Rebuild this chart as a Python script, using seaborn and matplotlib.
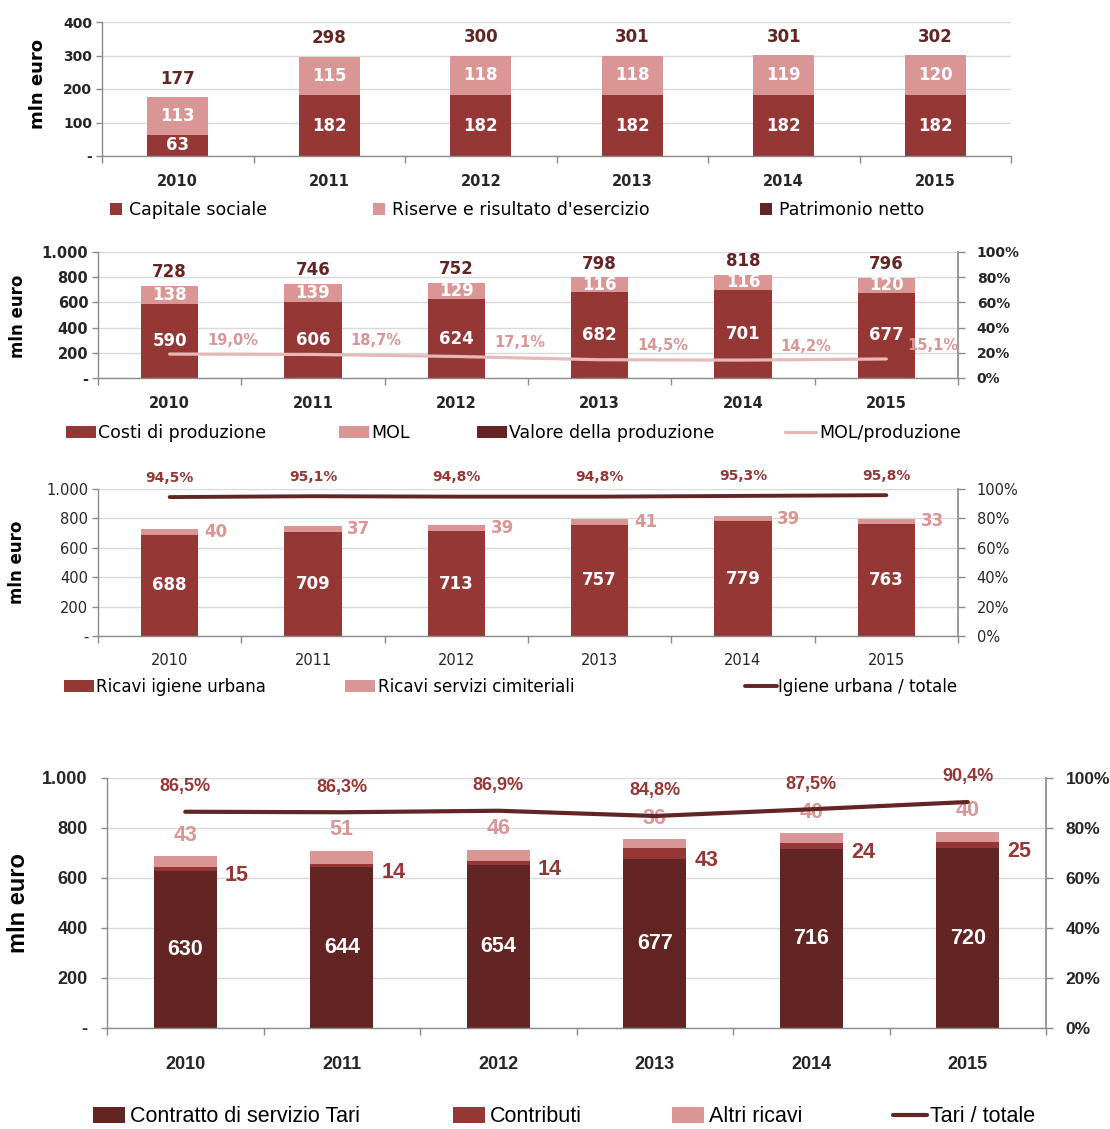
import numpy as np
import matplotlib
matplotlib.use('Agg')
import matplotlib.pyplot as plt
import matplotlib.ticker as mticker
from matplotlib.patches import Patch
from matplotlib.lines import Line2D
import seaborn as sns

years = ['2010', '2011', '2012', '2013', '2014', '2015']

# patrimonio netto
capitale_sociale = [63, 182, 182, 182, 182, 182]
riserve = [113, 115, 118, 118, 119, 120]
patrimonio_netto = [177, 298, 300, 301, 301, 302]

# valore della produzione
costi_produzione = [590, 606, 624, 682, 701, 677]
mol = [138, 139, 129, 116, 116, 120]
valore_produzione = [728, 746, 752, 798, 818, 796]
mol_su_produzione = [19.0, 18.7, 17.1, 14.5, 14.2, 15.1]

# ricavi igiene urbana / cimiteriali
ricavi_igiene = [688, 709, 713, 757, 779, 763]
ricavi_cimiteriali = [40, 37, 39, 41, 39, 33]
igiene_su_totale = [94.5, 95.1, 94.8, 94.8, 95.3, 95.8]

# ricavi tari
contratto_tari = [630, 644, 654, 677, 716, 720]
contributi = [15, 14, 14, 43, 24, 25]
altri_ricavi = [43, 51, 46, 36, 40, 40]
tari_su_totale = [86.5, 86.3, 86.9, 84.8, 87.5, 90.4]

DARK = '#632523'
RED = '#953735'
PINK = '#d99694'
LINEPINK = '#e6b9b8'
GRID = '#d9d9d9'
AXIS = '#8c8c8c'
F1 = 'DejaVu Sans'
F4 = 'Liberation Sans'

sns.set_theme(style='white')
plt.rcParams['font.family'] = ['DejaVu Sans']
plt.rcParams['text.color'] = '#000000'

W, H = 1110, 1129
fig = plt.figure(figsize=(W / 100, H / 100), dpi=100)


def rect(l, t, r, b):
    return [l / W, 1 - b / H, (r - l) / W, (b - t) / H]


def eur(v, _):
    if v == 0:
        return '-'
    return f'{v:,.0f}'.replace(',', '.')


def pct_txt(v):
    return f'{v:.1f}%'.replace('.', ',')


def stacked(ax, layers):
    # layers from the top of the stack down: each drawn over the previous one
    for heights, color in layers:
        sns.barplot(x=years, y=heights, color=color, width=0.4, saturation=1,
                    linewidth=0, errorbar=None, ax=ax)


def style_left(ax, ymax, step, family, weight, ysize, xsize, ypad, xpad):
    ax.set_xlim(-0.5, len(years) - 0.5)
    ax.set_ylim(0, ymax)
    ax.yaxis.set_major_locator(mticker.MultipleLocator(step))
    ax.yaxis.set_major_formatter(mticker.FuncFormatter(eur))
    ax.grid(axis='y', color=GRID, lw=1)
    ax.grid(axis='x', visible=False)
    ax.set_axisbelow(True)
    for s in ['top', 'right']:
        ax.spines[s].set_visible(False)
    for s in ['left', 'bottom']:
        ax.spines[s].set_color(AXIS)
        ax.spines[s].set_linewidth(1)
    ax.set_xticks(range(len(years)))
    ax.set_xticklabels(years, family=family, fontweight=weight, fontsize=xsize)
    ax.set_xticks(np.arange(len(years) + 1) - 0.5, minor=True)
    ax.tick_params(axis='x', which='major', length=0, pad=xpad, bottom=True)
    ax.tick_params(axis='x', which='minor', length=5, width=1, color=AXIS, bottom=True)
    ax.tick_params(axis='y', length=4, width=1, color=AXIS, pad=ypad, left=True,
                   labelsize=ysize)
    for lab in ax.get_yticklabels():
        lab.set_family(family)
        lab.set_fontweight(weight)
    ax.set_xlabel('')
    ax.set_ylabel('')


def style_right(ax2, family, weight, size, pad):
    ax2.set_ylim(0, 1)
    ax2.yaxis.set_major_locator(mticker.MultipleLocator(0.2))
    ax2.yaxis.set_major_formatter(mticker.PercentFormatter(1.0, decimals=0))
    ax2.grid(False)
    for s in ['top', 'left', 'bottom']:
        ax2.spines[s].set_visible(False)
    ax2.spines['right'].set_color(AXIS)
    ax2.tick_params(axis='y', right=True, length=5, width=1, color=AXIS, pad=pad,
                    labelsize=size)
    for lab in ax2.get_yticklabels():
        lab.set_family(family)
        lab.set_fontweight(weight)
    ax2.set_ylabel('')


def legend_item(handle, label, x, y, fs, family, hl, hh, pad):
    fig.legend(handles=[handle], labels=[label], loc='center left',
               bbox_to_anchor=(x / W, 1 - y / H), frameon=False,
               prop={'family': family, 'size': fs}, handlelength=hl,
               handleheight=hh, handletextpad=pad, borderpad=0, borderaxespad=0)


def ylabel(text, x, y, fs, family):
    fig.text(x / W, 1 - y / H, text, rotation=90, ha='center', va='center',
             fontsize=fs, fontweight='bold', family=family)


idx = np.arange(len(years))

# ---------------- panel 1: patrimonio netto
ax1 = fig.add_axes(rect(102, 22, 1011, 156))
stacked(ax1, [(np.add(capitale_sociale, riserve), PINK), (capitale_sociale, RED)])
style_left(ax1, 400, 100, F1, 'bold', 10, 10.5, 3, 13)
for i in idx:
    ax1.text(i, capitale_sociale[i] / 2, str(capitale_sociale[i]), ha='center',
             va='center', color='white', fontsize=12, fontweight='bold')
    ax1.text(i, capitale_sociale[i] + riserve[i] / 2, str(riserve[i]), ha='center',
             va='center', color='white', fontsize=12, fontweight='bold')
    ax1.annotate(str(patrimonio_netto[i]), (i, patrimonio_netto[i]), xytext=(0, 13),
                 textcoords='offset points', ha='center', va='center', color=DARK,
                 fontsize=12, fontweight='bold')
ylabel('mln euro', 38, 84, 13, F1)
legend_item(Patch(facecolor=RED, edgecolor='none'), 'Capitale sociale', 110, 210, 12.5, F1, 0.7, 0.7, 0.4)
legend_item(Patch(facecolor=PINK, edgecolor='none'), "Riserve e risultato d'esercizio", 373, 210, 12.5, F1, 0.7, 0.7, 0.4)
legend_item(Patch(facecolor=DARK, edgecolor='none'), 'Patrimonio netto', 760, 210, 12.5, F1, 0.7, 0.7, 0.4)

# ---------------- panel 2: valore della produzione
ax2 = fig.add_axes(rect(98, 252, 958, 378))
stacked(ax2, [(np.add(costi_produzione, mol), PINK), (costi_produzione, RED)])
style_left(ax2, 1000, 200, F1, 'bold', 10.5, 10.5, 3, 13)
ax2r = ax2.twinx()
sns.lineplot(x=idx, y=np.array(mol_su_produzione) / 100, ax=ax2r, color=LINEPINK,
             lw=2.3, legend=False)
style_right(ax2r, F1, 'bold', 10, 8.5)
for i in idx:
    ax2.text(i, costi_produzione[i] / 2, str(costi_produzione[i]), ha='center',
             va='center', color='white', fontsize=12, fontweight='bold')
    ax2.text(i, costi_produzione[i] + mol[i] / 2, str(mol[i]), ha='center',
             va='center', color='white', fontsize=12, fontweight='bold')
    ax2.annotate(str(valore_produzione[i]), (i, valore_produzione[i]), xytext=(0, 10),
                 textcoords='offset points', ha='center', va='center', color=DARK,
                 fontsize=12, fontweight='bold')
    last = i == idx[-1]
    ax2r.annotate(pct_txt(mol_su_produzione[i]),
                  (5.5 if last else i + 0.44, mol_su_produzione[i] / 100),
                  xytext=(0, 10), textcoords='offset points',
                  ha='right' if last else 'center', va='center', color=PINK,
                  fontsize=10.5, fontweight='bold')
ylabel('mln euro', 18, 316, 12, F1)
legend_item(Patch(facecolor=RED, edgecolor='none'), 'Costi di produzione', 66, 433, 12.5, F1, 1.7, 0.7, 0.15)
legend_item(Patch(facecolor=PINK, edgecolor='none'), 'MOL', 339, 433, 12.5, F1, 1.7, 0.7, 0.15)
legend_item(Patch(facecolor=DARK, edgecolor='none'), 'Valore della produzione', 477, 433, 12.5, F1, 1.7, 0.7, 0.15)
legend_item(Line2D([], [], color=LINEPINK, lw=2.3), 'MOL/produzione', 785, 433, 12.5, F1, 1.8, 0.7, 0.15)

# ---------------- panel 3: ricavi igiene urbana
ax3 = fig.add_axes(rect(98, 489, 958, 636))
stacked(ax3, [(np.add(ricavi_igiene, ricavi_cimiteriali), PINK), (ricavi_igiene, RED)])
style_left(ax3, 1000, 200, F1, 'normal', 10.5, 10.5, 3, 12.5)
ax3r = ax3.twinx()
sns.lineplot(x=idx, y=np.array(igiene_su_totale) / 100, ax=ax3r, color=DARK,
             lw=2.8, legend=False)
style_right(ax3r, F1, 'normal', 10.5, 8.5)
for i in idx:
    ax3.text(i, ricavi_igiene[i] / 2, str(ricavi_igiene[i]), ha='center',
             va='center', color='white', fontsize=12, fontweight='bold')
    ax3.text(i + 0.32, ricavi_igiene[i] + ricavi_cimiteriali[i] / 2,
             str(ricavi_cimiteriali[i]), ha='center', va='center', color=PINK,
             fontsize=12, fontweight='bold')
    ax3r.annotate(pct_txt(igiene_su_totale[i]), (i, igiene_su_totale[i] / 100),
                  xytext=(0, 14), textcoords='offset points', ha='center',
                  va='center', color=RED, fontsize=10, fontweight='bold')
ylabel('mln euro', 17, 562, 12, F1)
legend_item(Patch(facecolor=RED, edgecolor='none'), 'Ricavi igiene urbana', 64, 687, 12, F1, 1.8, 0.7, 0.15)
legend_item(Patch(facecolor=PINK, edgecolor='none'), 'Ricavi servizi cimiteriali', 345, 687, 12, F1, 1.8, 0.7, 0.15)
legend_item(Line2D([], [], color=DARK, lw=2.8), 'Igiene urbana / totale', 745, 687, 12, F1, 1.9, 0.7, 0.1)

# ---------------- panel 4: ricavi tari
ax4 = fig.add_axes(rect(107, 778, 1046, 1028))
tari_contributi = np.add(contratto_tari, contributi)
stacked(ax4, [(tari_contributi + np.array(altri_ricavi), PINK),
              (tari_contributi, RED), (contratto_tari, DARK)])
style_left(ax4, 1000, 200, F4, 'bold', 13, 13, 10, 20)
ax4r = ax4.twinx()
sns.lineplot(x=idx, y=np.array(tari_su_totale) / 100, ax=ax4r, color=DARK,
             lw=3, legend=False)
style_right(ax4r, F4, 'bold', 12.5, 9)
for i in idx:
    ax4.text(i, contratto_tari[i] / 2, str(contratto_tari[i]), ha='center',
             va='center', color='white', fontsize=15.5, fontweight='bold', family=F4)
    ax4.annotate(str(contributi[i]), (i + 0.33, contratto_tari[i] + contributi[i] / 2),
                 xytext=(0, -5), textcoords='offset points', ha='center',
                 va='center', color=RED, fontsize=15.5, fontweight='bold', family=F4)
    ax4.annotate(str(altri_ricavi[i]), (i, tari_contributi[i] + altri_ricavi[i]),
                 xytext=(0, 15), textcoords='offset points', ha='center',
                 va='center', color=PINK, fontsize=15.5, fontweight='bold', family=F4)
    ax4r.annotate(pct_txt(tari_su_totale[i]), (i, tari_su_totale[i] / 100),
                  xytext=(0, 18), textcoords='offset points', ha='center',
                  va='center', color=RED, fontsize=13, fontweight='bold', family=F4)
ylabel('mln euro', 19, 903, 17, F4)
legend_item(Patch(facecolor=DARK, edgecolor='none'), 'Contratto di servizio Tari', 93, 1117, 15.5, F4, 1.5, 0.7, 0.2)
legend_item(Patch(facecolor=RED, edgecolor='none'), 'Contributi', 453, 1117, 15.5, F4, 1.5, 0.7, 0.2)
legend_item(Patch(facecolor=PINK, edgecolor='none'), 'Altri ricavi', 672, 1117, 15.5, F4, 1.5, 0.7, 0.2)
legend_item(Line2D([], [], color=DARK, lw=3), 'Tari / totale', 893, 1117, 15.5, F4, 1.6, 0.7, 0.1)

fig.savefig('out.png', dpi=100)
